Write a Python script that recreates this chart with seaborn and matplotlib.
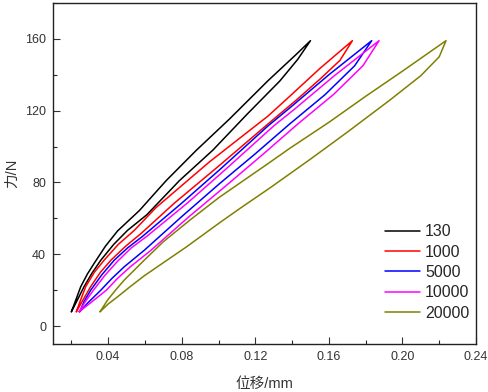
import numpy as np
import pandas as pd
import matplotlib
matplotlib.use("Agg")
import matplotlib.pyplot as plt
import seaborn as sns
from matplotlib.ticker import MultipleLocator

# ---- data ----
labels = ["130", "1000", "5000", "10000", "20000"]
colors = ["#000000", "#ff0000", "#0000ff", "#ff00ff", "#808000"]

# loading branch (lower/right), start -> tip
x130_lo = [0.0200, 0.0230, 0.0269, 0.0312, 0.0360, 0.0430, 0.0505, 0.0610, 0.0787, 0.0969, 0.1155, 0.1333, 0.1430, 0.1500]
y130_lo = [8, 14, 22, 29.5, 36.7, 45.5, 53.3, 62, 81, 98, 118, 136.5, 148.5, 159]
# unloading branch (upper/left), start -> tip
x130_up = [0.0200, 0.0222, 0.0251, 0.0287, 0.0324, 0.0385, 0.0451, 0.0570, 0.0715, 0.0878, 0.1060, 0.1269, 0.1424, 0.1500]
y130_up = [8, 14, 22, 29, 35, 44.5, 53, 64.4, 81, 97.8, 115.4, 136.7, 151.5, 159]

x1000_lo = [0.0227, 0.0260, 0.0305, 0.0358, 0.0415, 0.0495, 0.0578, 0.0760, 0.1005, 0.1269, 0.1424, 0.1551, 0.1660, 0.1728]
y1000_lo = [8, 14, 22, 30, 36.7, 44.5, 51.5, 68.5, 89.5, 112.6, 126, 137.5, 148, 159]
x1000_up = [0.0227, 0.0248, 0.0278, 0.0325, 0.0378, 0.0455, 0.0542, 0.0660, 0.0951, 0.1269, 0.1387, 0.1551, 0.1728]
y1000_up = [8, 14, 22, 30, 36.7, 45.5, 53.3, 66, 91.5, 117, 128, 143.5, 159]

x5000_lo = [0.0245, 0.0290, 0.0360, 0.0420, 0.0487, 0.0596, 0.0800, 0.1005, 0.1200, 0.1387, 0.1580, 0.1740, 0.1833]
y5000_lo = [8, 13, 20, 26.5, 33, 42.2, 61, 79.3, 96, 112.6, 129, 145, 159]
x5000_up = [0.0245, 0.0268, 0.0305, 0.0365, 0.0433, 0.0505, 0.0587, 0.0800, 0.1005, 0.1269, 0.1387, 0.1600, 0.1833]
y5000_up = [8, 13.5, 20, 28.5, 36.7, 43.5, 50, 68.5, 87, 111.5, 121.5, 140, 159]

x10000_lo = [0.0242, 0.0305, 0.0390, 0.0450, 0.0520, 0.0630, 0.0840, 0.1050, 0.1245, 0.1430, 0.1625, 0.1785, 0.1873]
y10000_lo = [8, 13, 20, 26.5, 33, 42, 61, 79, 96, 112.5, 129, 145, 159]
x10000_up = [0.0242, 0.0275, 0.0320, 0.0380, 0.0450, 0.0525, 0.0610, 0.0830, 0.1035, 0.1300, 0.1415, 0.1630, 0.1873]
y10000_up = [8, 13.5, 20, 28, 36, 43.5, 50, 68.5, 87, 111.5, 121, 139.5, 159]

x20000_lo = [0.0356, 0.0400, 0.0451, 0.0520, 0.0596, 0.0710, 0.0824, 0.1005, 0.1116, 0.1280, 0.1497, 0.1700, 0.1933, 0.2100, 0.2200, 0.2237]
y20000_lo = [8, 12.3, 16.3, 22, 28, 36, 44, 57.5, 65.5, 77, 92.8, 108, 126, 139.5, 150, 159]
x20000_up = [0.0356, 0.0396, 0.0440, 0.0487, 0.0596, 0.0700, 0.0850, 0.1005, 0.1269, 0.1387, 0.1600, 0.1800, 0.2000, 0.2237]
y20000_up = [8, 14.4, 20, 25.6, 36.7, 47, 59.5, 71.8, 90.5, 99, 113.5, 128, 142, 159]

loops = [
    (x130_lo, y130_lo, x130_up, y130_up),
    (x1000_lo, y1000_lo, x1000_up, y1000_up),
    (x5000_lo, y5000_lo, x5000_up, y5000_up),
    (x10000_lo, y10000_lo, x10000_up, y10000_up),
    (x20000_lo, y20000_lo, x20000_up, y20000_up),
]

rows = []
for lab, (xl, yl, xu, yu) in zip(labels, loops):
    xs = list(xl) + list(xu[::-1][1:])
    ys = list(yl) + list(yu[::-1][1:])
    for i, (xv, yv) in enumerate(zip(xs, ys)):
        rows.append({"series": lab, "order": i, "x": xv, "y": yv})
df = pd.DataFrame(rows)

# ---- plot ----
sns.set_theme(style="ticks")
plt.rcParams["font.family"] = ["Liberation Sans", "Noto Sans CJK SC", "DejaVu Sans"]

fig = plt.figure(figsize=(4.89, 3.92), dpi=100)
ax = fig.add_axes([0.1084, 0.1224, 0.865, 0.870])

sns.lineplot(data=df, x="x", y="y", hue="series", hue_order=labels,
             palette=colors, sort=False, estimator=None, linewidth=1.1,
             ax=ax)

ax.set_xlim(0.01, 0.24)
ax.set_ylim(-10, 180)
ax.xaxis.set_minor_locator(MultipleLocator(0.02))
ax.yaxis.set_minor_locator(MultipleLocator(20))
ax.set_xticks([0.04, 0.08, 0.12, 0.16, 0.20, 0.24])
ax.set_xticklabels(["0.04", "0.08", "0.12", "0.16", "0.20", "0.24"])
ax.set_yticks([0, 40, 80, 120, 160])
ax.set_yticklabels(["0", "40", "80", "120", "160"])
ax.tick_params(which="major", direction="in", length=5, width=0.8,
               labelsize=9, colors="#333333", top=False, right=False, pad=5)
ax.tick_params(which="minor", direction="in", length=3, width=0.8,
               top=False, right=False)
for s in ax.spines.values():
    s.set_visible(True)
    s.set_linewidth(1.0)
    s.set_color("#222222")

ax.set_xlabel("位移/mm", fontsize=10.5, color="#333333", labelpad=10)
ax.set_ylabel("力/N", fontsize=10.5, color="#333333", labelpad=4)

handles, _ = ax.get_legend_handles_labels()
ax.legend(handles=handles[-5:], labels=labels, loc="lower left",
          bbox_to_anchor=(0.77, 0.05), frameon=False, fontsize=11.5,
          handlelength=2.2, handletextpad=0.3, labelspacing=0.33,
          borderaxespad=0)

fig.savefig("out.png", dpi=100)
